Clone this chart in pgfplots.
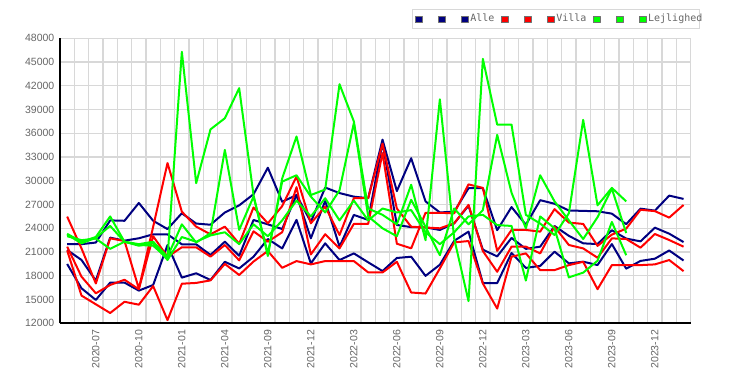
\documentclass[border=0pt]{standalone}
\usepackage{fontspec}
\setmainfont{Liberation Sans}
\newfontfamily\legfont{DejaVu Sans Mono}
\usepackage{pgfplots}
\usepackage{pgfplotstable}
\pgfplotsset{compat=1.18}
\definecolor{navy}{RGB}{0,0,128}
\definecolor{vred}{RGB}{255,0,0}
\definecolor{lgreen}{RGB}{0,255,0}
\definecolor{gridgray}{RGB}{216,216,216}
\definecolor{labgray}{RGB}{102,102,102}
\definecolor{sqgray}{RGB}{112,112,112}

\pgfplotstableread{
i N1 N2 N3 Ra Rc Rb GA GB GC
0 22000 21260 19490 25480 21680 21200 23300 23200 23000
1 22000 20000 16420 21460 17890 15500 22300 22100 22500
2 22200 17390 14950 17030 15790 14400 22900 22800 22700
3 25000 22820 17140 22730 16840 13300 25500 24300 21400
4 24950 22440 17140 22400 17500 14720 22300 22300 22300
5 27200 22740 16130 16390 16300 14350 21900 22000 21800
6 24950 23240 16840 24200 23000 16700 21800 22300 22100
7 23900 23240 21890 32240 20400 12400 20200 20400 20000
8 25900 21980 17770 26100 21600 17000 46300 24500 22900
9 24600 21980 18320 24210 21600 17100 29700 22200 22300
10 24450 20630 17470 23240 20420 17420 36500 23400 23100
11 26000 22310 19770 24210 21890 19500 37900 33900 23500
12 26900 20530 18930 22050 19950 18100 41700 23800 22000
13 28300 25050 20410 26630 23620 19800 28200 28000 24500
14 31650 24500 22650 24630 22310 21130 20500 20800 23000
15 27350 23910 21460 26800 23500 19010 30300 29900 25000
16 28200 28220 25060 30550 29200 19860 35600 30700 27500
17 24800 22730 19560 24630 20700 19440 28200 28000 25500
18 29150 27460 22100 26750 23250 19860 28900 26000 27800
19 28450 21680 19990 23150 21460 19860 42200 28800 25000
20 28000 25690 20830 27800 24560 19860 37500 37300 27500
21 27800 25060 19700 27800 24560 18430 26500 25500 25000
22 35200 34800 18600 34700 33500 18420 25700 24000 26500
23 28700 24420 20250 26500 22050 19770 24500 23000 26000
24 32850 24150 20410 24200 21470 15890 29500 27600 26300
25 27400 24120 17990 24100 25950 15760 22500 24200 23500
26 26000 23790 19400 24000 25950 18930 40300 20600 22000
27 26100 24630 22420 24630 25900 22220 22700 26500 23500
28 29060 26850 23580 26960 29550 22390 14800 24500 25500
29 29060 21300 17080 21130 29100 17030 45400 26300 25700
30 23760 20450 17080 18510 21150 13860 37100 35800 24400
31 26680 22780 20880 21680 23790 20410 37100 28500 24300
32 24450 21400 19000 21680 23790 20830 25700 24000 17400
33 27550 21680 19250 20830 23580 18720 24600 30700 25500
34 27100 24290 21050 24210 26420 18720 23150 27400 24000
35 26250 23050 19570 21890 24720 19350 25900 25000 17800
36 26200 22100 19780 21460 24550 19770 37700 22650 18400
37 26150 22010 19360 20280 21780 16310 26900 25400 19900
38 25850 23750 22010 22730 23200 19350 29100 29000 24800
39 24520 22700 18900 22650 23960 19350 27400 23400 20600
40 26480 22350 19880 21550 26340 19350 nan nan nan
41 26230 24080 20160 23280 26170 19440 nan nan nan
42 28130 23320 21200 22520 25350 19990 nan nan nan
43 27710 22260 19930 21680 26950 18590 nan nan nan
}\data

\pgfplotsset{
  sq/.style={legend image code/.code={\draw[fill=#1,draw=sqgray,line width=0.8bp] (0bp,-3.35bp) rectangle (6.7bp,3.35bp);}},
  ser/.style={#1, line width=2bp, line join=round, sq=#1},
}

\begin{document}
\begin{tikzpicture}
\useasboundingbox (0,0) rectangle (750bp,385bp);
\begin{axis}[
  at={(60bp,61.7bp)}, anchor=south west,
  scale only axis, width=630.7bp, height=285bp,
  xmin=-0.5, xmax=43.5, ymin=12000, ymax=48000,
  xtick={2,5,...,41},
  xticklabels={2020-07,2020-10,2021-01,2021-04,2021-09,2021-12,2022-03,2022-06,2022-09,2022-12,2023-03,2023-06,2023-09,2023-12},
  minor xtick={-0.5,0.5,...,43.5},
  ytick={12000,15000,...,48000},
  xmajorgrids=false, xminorgrids=true, ymajorgrids=true,
  grid style={gridgray, line width=1.2bp},
  minor grid style={gridgray, line width=1.2bp},
  major tick length=0pt, minor tick length=0pt,
  axis x line*=bottom, axis y line*=left,
  axis line style={black, line width=1.6bp, -},
  scaled y ticks=false,
  /pgf/number format/1000 sep={},
  /pgf/number format/assume math mode=true,
  tick label style={font=\fontsize{10.5bp}{12bp}\selectfont, text=labgray},
  x tick label style={rotate=90, anchor=east, inner xsep=6.5bp},
  y tick label style={anchor=east, inner xsep=5.5bp},
  clip=true,
  legend columns=9,
  legend style={
    at={(0.5576,1.1018)}, anchor=north west,
    draw=gridgray, line width=1.2bp,
    inner xsep=2.8bp, inner ysep=4.5bp,
    font=\legfont\fontsize{10bp}{12bp}\selectfont, text=labgray,
    /tikz/every odd column/.style={column sep=1.6bp},
    /tikz/every even column/.style={column sep=6.5bp},
    nodes={inner xsep=0pt, inner ysep=0pt, text height=7.5bp, text depth=2.5bp},
  },
]
\addplot[ser=navy] table[x=i, y=N1] {\data};
\addlegendentry{\hspace*{7.5bp}}
\addplot[ser=navy] table[x=i, y=N2] {\data};
\addlegendentry{\hspace*{7.5bp}}
\addplot[ser=navy] table[x=i, y=N3] {\data};
\addlegendentry{Alle}
\addplot[ser=vred] table[x=i, y=Ra] {\data};
\addlegendentry{\hspace*{7.5bp}}
\addplot[ser=vred] table[x=i, y=Rc] {\data};
\addlegendentry{\hspace*{7.5bp}}
\addplot[ser=vred] table[x=i, y=Rb] {\data};
\addlegendentry{Villa}
\addplot[ser=lgreen] table[x=i, y=GA] {\data};
\addlegendentry{\hspace*{7.5bp}}
\addplot[ser=lgreen] table[x=i, y=GB] {\data};
\addlegendentry{\hspace*{7.5bp}}
\addplot[ser=lgreen] table[x=i, y=GC] {\data};
\addlegendentry{Lejlighed\hspace*{-6bp}}
\end{axis}
\end{tikzpicture}
\end{document}
